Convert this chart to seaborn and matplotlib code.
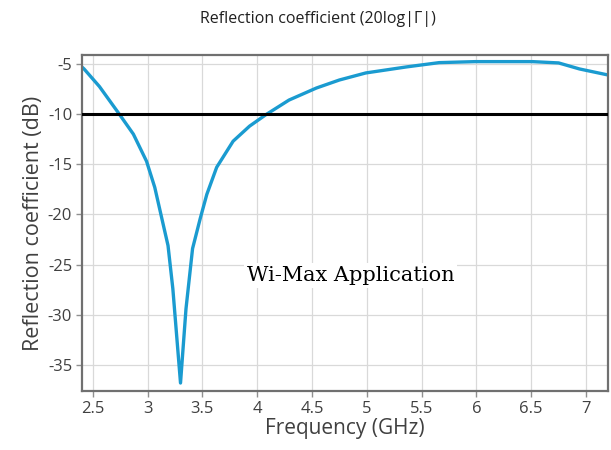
import numpy as np
import pandas as pd
import matplotlib
matplotlib.use("Agg")
import matplotlib.pyplot as plt
import seaborn as sns

# ---- data ----
freq_ghz = [2.40, 2.42, 2.56, 2.74, 2.87, 2.99, 3.065, 3.14, 3.186, 3.23,
            3.30, 3.35, 3.41, 3.48, 3.54, 3.63, 3.78, 3.93, 4.08, 4.29,
            4.54, 4.75, 4.99, 5.36, 5.66, 5.99, 6.51, 6.75, 6.94, 7.20]
s11_db = [-5.3, -5.5, -7.25, -9.98, -12.0, -14.7, -17.3, -20.9, -23.1, -27.4,
          -36.8, -29.4, -23.4, -20.4, -18.0, -15.3, -12.7, -11.2, -10.05, -8.6,
          -7.4, -6.6, -5.9, -5.3, -4.87, -4.77, -4.77, -4.9, -5.5, -6.1]
threshold_db = -10
x_ticks = [2.5, 3, 3.5, 4, 4.5, 5, 5.5, 6, 6.5, 7]
y_ticks = [-35, -30, -25, -20, -15, -10, -5]

df = pd.DataFrame({"freq": freq_ghz, "s11": s11_db})

sns.set_style("whitegrid")
plt.rcParams["font.family"] = ["Open Sans", "DejaVu Sans"]

fig = plt.figure(figsize=(6.11, 4.5), dpi=100)
ax = fig.add_axes([0.134, 0.131, 0.861, 0.747])

sns.lineplot(data=df, x="freq", y="s11", color="#1a9bd0", linewidth=2.4, ax=ax)
ax.axhline(threshold_db, color="black", linewidth=2.2, zorder=3)

ax.set_xlim(2.4, 7.2)
ax.set_ylim(-37.6, -4.1)
ax.set_xticks(x_ticks)
ax.set_xticklabels([f"{t:g}" for t in x_ticks])
ax.set_yticks(y_ticks)
ax.set_yticklabels([f"{t:g}" for t in y_ticks])

ax.grid(True, color="#d9d9d9", linewidth=0.9)
for sp in ax.spines.values():
    sp.set_color("#707070")
    sp.set_linewidth(1.6)
ax.tick_params(axis="both", which="major", length=4, width=1, color="#909090",
               labelsize=12, labelcolor="#404040", pad=3, bottom=True, left=True)

ax.set_xlabel("Frequency (GHz)", fontsize=15, color="#404040", labelpad=1)
ax.set_ylabel("Reflection coefficient (dB)", fontsize=15.5, color="#404040", labelpad=3)

fig.text(0.52, 0.957, "Reflection coefficient (20log|Γ|)", ha="center", va="center",
         fontsize=11.5, color="#202020")

ax.text(4.85, -26.1, "Wi-Max Application", family="DejaVu Serif", fontsize=15,
        ha="center", va="center", color="black",
        bbox=dict(facecolor="white", edgecolor="none", pad=2), zorder=4)

fig.savefig("out.png", dpi=100)
